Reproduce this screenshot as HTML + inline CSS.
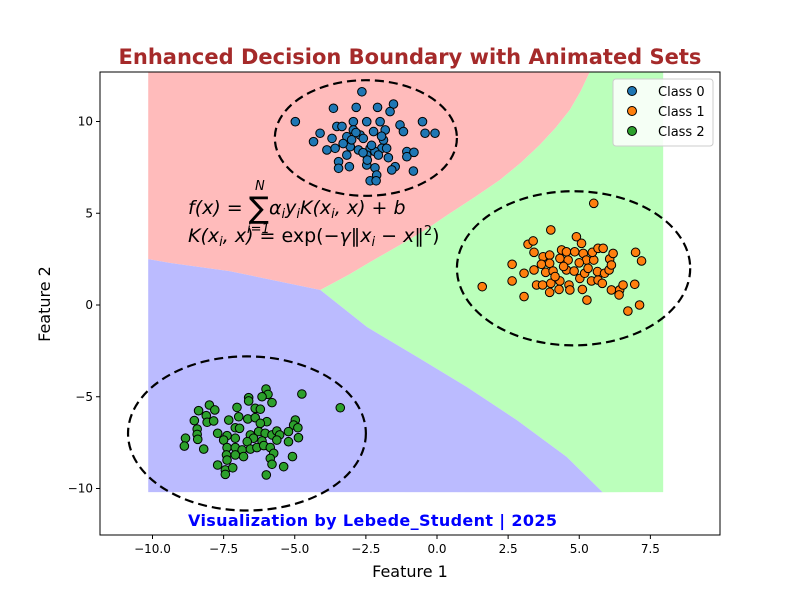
<!DOCTYPE html>
<html><head><meta charset="utf-8"><style>
body{margin:0;background:#fff;}
svg text{font-family:"DejaVu Sans","Liberation Sans",sans-serif;}
</style></head><body>
<svg id="chart" width="800" height="600" xmlns="http://www.w3.org/2000/svg">
<rect width="800" height="600" fill="#fff"/>
<g id="regions"></g>
<g id="ellipses"></g>
<g id="points"></g>
<rect x="100" y="72" width="620" height="463" fill="none" stroke="#000" stroke-width="1"/>
<g id="axes"></g>
<text x="410" y="64" text-anchor="middle" font-size="21" font-weight="bold" fill="#a52a2a">Enhanced Decision Boundary with Animated Sets</text>
<text x="410" y="577" text-anchor="middle" font-size="16">Feature 1</text>
<text x="50" y="304" text-anchor="middle" font-size="16" transform="rotate(-90 50 304)">Feature 2</text>
<g font-size="19" font-style="italic">
<text x="188" y="214">f(x) = <tspan font-style="normal" font-size="30" dy="4">∑</tspan><tspan dy="-4">α</tspan><tspan font-size="13" dy="4">i</tspan><tspan dy="-4">y</tspan><tspan font-size="13" dy="4">i</tspan><tspan dy="-4">K(x</tspan><tspan font-size="13" dy="4">i</tspan><tspan dy="-4">, x) + b</tspan></text>
<text x="255" y="190" font-size="13">N</text>
<text x="247" y="233" font-size="13">i=1</text>
<text x="188" y="242">K(x<tspan font-size="13" dy="4">i</tspan><tspan dy="-4">, x) = </tspan><tspan font-style="normal">exp(−</tspan>γ‖x<tspan font-size="13" dy="4">i</tspan><tspan dy="-4"> − x‖</tspan><tspan font-size="13" font-style="normal" dy="-7">2</tspan><tspan font-style="normal" dy="7">)</tspan></text>
</g>
<text x="188" y="526" font-size="16" font-weight="bold" fill="#0000ff" textLength="369">Visualization by Lebede_Student | 2025</text>
<g>
<rect x="613" y="79" width="100" height="67" rx="3" fill="#fff" fill-opacity="0.85" stroke="#ccc"/>
<circle cx="632" cy="91" r="4.5" fill="#1f77b4" stroke="#000"/>
<text x="658" y="96" font-size="13">Class 0</text>
<circle cx="632" cy="111" r="4.5" fill="#ff7f0e" stroke="#000"/>
<text x="658" y="116" font-size="13">Class 1</text>
<circle cx="632" cy="131" r="4.5" fill="#2ca02c" stroke="#000"/>
<text x="658" y="136" font-size="13">Class 2</text>
</g>
</svg>
<script>
const xTicks=[-10,-7.5,-5,-2.5,0,2.5,5,7.5];
const xTickLabels=["−10.0","−7.5","−5.0","−2.5","0.0","2.5","5.0","7.5"];
const yTicks=[-10,-5,0,5,10];
const yTickLabels=["−10","−5","0","5","10"];
const regionExtent=[-10.15,7.95,-10.2,12.7];
const boundaryRedBlue=[[-10.15,2.5],[-9.37,2.29],[-7.3,1.85],[-4.1,0.82]];
const boundaryRedGreen=[[-4.1,0.82],[-3.1,1.65],[-2.35,2.34],[-1.3,3.27],[-0.4,4.1],[0.46,5.0],[1.35,5.9],[2.21,6.81],[2.95,7.75],[3.61,8.72],[4.17,9.65],[4.67,10.63],[5.05,11.65],[5.37,12.7]];
const boundaryBlueGreen=[[-4.1,0.82],[-2.46,-1.2],[-0.70,-2.83],[1.05,-4.47],[2.81,-6.27],[4.56,-8.28],[5.82,-10.2]];
const ellipseCenters=[[-2.5,9.1],[4.8,2.0],[-6.68,-7.0]];
const ellipseRadii=[[3.2,3.15],[4.1,4.2],[4.18,4.2]];
const class0X=[-2.64,-3.64,-2.84,-2.09,-1.53,-1.65,-4.98,-0.51,-4.11,-4.34,-0.42,-0.07,-3.87,-3.52,-2.94,-2.47,-2.00,-1.30,-1.18,-3.69,-3.17,-2.70,-2.23,-1.82,-3.05,-2.59,-2.35,-1.88,-1.94,-3.58,-3.17,-2.76,-2.47,-2.18,-1.77,-3.46,-3.46,-3.08,-2.47,-2.18,-1.71,-1.47,-1.59,-1.06,-0.81,-1.06,-0.83,-2.12,-2.35,-2.14,-2.94,-3.34,-2.06,-2.85,-3.30,-2.30,-1.95,-2.60,-3.00,-2.45];
const class0Y=[11.62,10.72,10.77,10.77,10.95,10.54,9.99,9.99,9.36,8.90,9.36,9.36,8.45,9.73,9.99,9.99,9.99,9.81,9.45,9.08,9.17,9.26,9.45,9.54,8.63,9.08,8.54,8.99,8.54,8.54,8.17,8.45,8.17,8.36,8.54,7.81,7.45,7.54,7.63,7.48,8.03,7.54,7.36,8.36,8.32,8.08,7.30,7.08,6.77,6.77,9.54,9.73,8.17,9.40,8.80,8.70,9.20,8.30,9.00,7.90];
const class1X=[5.51,4.00,4.90,5.08,3.20,3.38,3.41,2.64,2.64,1.59,3.06,3.06,3.41,3.50,3.71,3.73,3.96,3.67,3.96,3.82,4.08,4.00,3.96,4.32,4.38,4.55,4.61,4.55,4.32,4.29,4.64,4.67,4.84,4.82,5.02,5.14,5.25,5.19,5.31,5.51,5.46,5.66,5.84,5.43,5.66,5.81,5.64,5.89,6.05,6.07,6.19,6.13,5.11,5.27,6.13,6.42,6.40,6.54,6.95,6.98,7.19,7.12,6.71,4.45,5.00,4.15];
const class1Y=[5.54,4.09,3.72,3.36,3.31,3.49,2.87,2.22,1.31,1.00,1.73,0.46,1.91,1.09,1.09,2.63,2.72,2.22,2.27,1.78,1.85,1.18,0.69,2.54,3.00,2.90,2.45,1.91,1.31,0.85,1.09,0.82,2.90,1.85,1.45,2.81,2.45,1.73,2.00,2.45,2.87,3.09,3.09,1.31,1.36,1.18,1.82,1.73,1.91,2.51,2.81,2.18,0.85,0.27,0.82,0.82,0.55,1.09,1.13,2.87,2.40,0.00,-0.33,2.10,2.30,1.55];
const class2X=[-6.01,-5.94,-4.75,-6.62,-6.62,-6.15,-5.80,-6.39,-6.21,-7.03,-8.00,-7.81,-8.38,-8.11,-8.53,-8.08,-7.85,-7.32,-6.97,-6.65,-6.39,-5.98,-6.21,-4.98,-5.04,-4.89,-8.43,-8.43,-8.41,-7.09,-6.94,-7.71,-7.38,-7.09,-6.56,-6.27,-6.04,-5.80,-5.63,-5.53,-5.22,-4.87,-5.22,-5.63,-6.15,-6.45,-6.67,-8.84,-8.88,-8.20,-7.50,-7.38,-7.09,-6.85,-6.56,-6.33,-6.09,-5.86,-5.74,-7.40,-7.09,-6.80,-5.86,-5.80,-7.38,-7.71,-7.44,-7.44,-7.18,-5.39,-5.08,-6.00,-3.40];
const class2Y=[-4.58,-4.87,-4.85,-5.05,-5.23,-5.00,-5.32,-5.63,-5.68,-5.58,-5.45,-5.72,-5.76,-6.03,-6.30,-6.39,-6.32,-6.27,-6.09,-6.21,-6.14,-6.36,-6.45,-6.27,-6.54,-6.69,-6.76,-7.05,-7.32,-6.69,-6.72,-6.99,-7.12,-7.26,-7.08,-6.90,-6.99,-7.08,-6.87,-7.08,-6.90,-7.23,-7.45,-7.36,-7.41,-7.26,-7.45,-7.26,-7.69,-7.85,-7.36,-7.77,-7.77,-7.90,-7.85,-7.77,-7.66,-7.77,-8.08,-8.17,-8.17,-8.26,-8.36,-8.68,-8.45,-8.72,-8.99,-9.23,-8.87,-8.81,-8.26,-9.26,-5.60];

const NS="http://www.w3.org/2000/svg";
const X0=100,X1=720,Y0=72,Y1=535;
const pxPerX=28.45, x0px=437, pxPerY=18.35, y0px=305;
function sx(v){return x0px+v*pxPerX;}
function sy(v){return y0px-v*pxPerY;}
function mk(tag,attrs,parent){const e=document.createElementNS(NS,tag);for(const k in attrs)e.setAttribute(k,attrs[k]);parent.appendChild(e);return e;}
function pts(arr){return arr.map(p=>sx(p[0]).toFixed(1)+","+Math.max(Y0,sy(p[1])).toFixed(1));}

const reg=document.getElementById('regions');
const [ex0,ex1,ey0,ey1]=regionExtent;
const topY=Math.max(Y0,sy(ey1));
let red=mk('polygon',{points:[sx(ex0)+","+topY,...pts(boundaryRedBlue),...pts(boundaryRedGreen)].join(" "),fill:"#ffbbbb"},reg);


let green=mk('polygon',{points:[...pts(boundaryRedGreen).reverse(),...pts(boundaryBlueGreen),sx(ex1)+","+sy(ey0),sx(ex1)+","+topY].join(" "),fill:"#bbffbb"},reg);


let blue=mk('polygon',{points:[...pts(boundaryRedBlue),...pts(boundaryBlueGreen),sx(ex0)+","+sy(ey0)].join(" "),fill:"#bbbbff"},reg);



const eg=document.getElementById('ellipses');
ellipseCenters.forEach((c,i)=>{
  const cx=sx(c[0]),cy=sy(c[1]);
  const rx=sx(c[0]+ellipseRadii[i][0])-cx, ry=cy-sy(c[1]+ellipseRadii[i][1]);
  const e=mk('ellipse',{cx:cx,cy:cy,rx:rx,ry:ry,fill:"none",stroke:"#000","stroke-width":2.2,"stroke-dasharray":"9,5"},eg);
  
  
});

const pg=document.getElementById('points');
[[class0X,class0Y,"#1f77b4"],[class1X,class1Y,"#ff7f0e"],[class2X,class2Y,"#2ca02c"]].forEach((s,ci)=>{
  s[0].forEach((x,i)=>{
    const c=mk('circle',{cx:sx(x),cy:sy(s[1][i]),r:4.3,fill:s[2],stroke:"#000","stroke-width":1},pg);
    
    
  });
});

const ax=document.getElementById('axes');
xTicks.forEach((t,i)=>{
  const x=sx(t);
  const l=mk('line',{x1:x,x2:x,y1:Y1,y2:Y1+4,stroke:"#000"},ax);
  
  
  const tx=mk('text',{x:x,y:Y1+18,"text-anchor":"middle","font-size":12},ax);
  tx.textContent=xTickLabels[i];
  
  
});
yTicks.forEach((t,i)=>{
  const y=sy(t);
  const l=mk('line',{x1:X0-4,x2:X0,y1:y,y2:y,stroke:"#000"},ax);
  
  
  const tx=mk('text',{x:X0-7,y:y+4,"text-anchor":"end","font-size":12},ax);
  tx.textContent=yTickLabels[i];
  
  
});
</script>
</body></html>
